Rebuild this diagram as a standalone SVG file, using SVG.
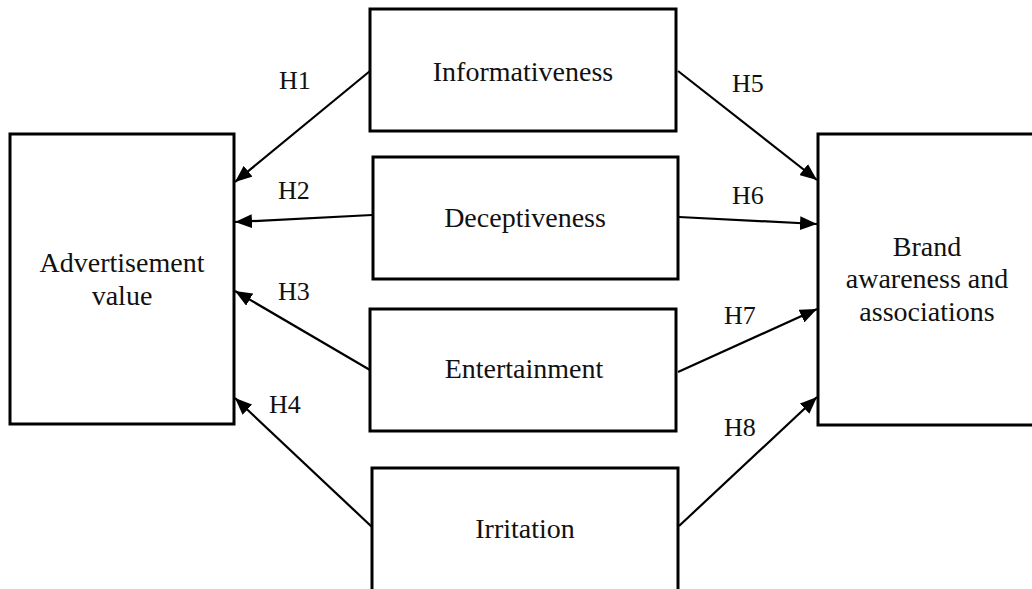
<svg xmlns="http://www.w3.org/2000/svg" width="1032" height="589" viewBox="0 0 1032 589">
<defs>
<style>
.box{fill:#fff;stroke:#000;stroke-width:3}
.t{font-family:"Liberation Serif","Times New Roman",serif;font-size:28px;fill:#111;text-anchor:middle}
.lbl{font-family:"Liberation Serif","Times New Roman",serif;font-size:26px;fill:#111;text-anchor:start}
.c{stroke:#000;stroke-width:2.2;fill:none;marker-end:url(#ah)}
</style>
<marker id="ah" markerUnits="userSpaceOnUse" markerWidth="18" markerHeight="14" refX="17" refY="7" orient="auto">
<path d="M0,0 L17,7 L0,14 z" fill="#000"/>
</marker>
</defs>
<rect width="1032" height="589" fill="#fff"/>
<g id="advertisement-value">
<rect class="box" x="10" y="134" width="224" height="290"/>
<text class="t" x="122" y="272">Advertisement</text>
<text class="t" x="122" y="305">value</text>
</g>
<g id="informativeness">
<rect class="box" x="370" y="9" width="306" height="122"/>
<text class="t" x="523" y="81">Informativeness</text>
</g>
<g id="deceptiveness">
<rect class="box" x="373" y="157" width="305" height="122"/>
<text class="t" x="525" y="227">Deceptiveness</text>
</g>
<g id="entertainment">
<rect class="box" x="370" y="309" width="306" height="122"/>
<text class="t" x="524" y="378">Entertainment</text>
</g>
<g id="irritation">
<rect class="box" x="372" y="468" width="306" height="130"/>
<text class="t" x="525" y="538">Irritation</text>
</g>
<g id="brand-awareness">
<rect class="box" x="818" y="134" width="220" height="291"/>
<text class="t" x="927" y="256">Brand</text>
<text class="t" x="927" y="288">awareness and</text>
<text class="t" x="927" y="321">associations</text>
</g>
<g id="connectors">
<line class="c" x1="370" y1="71" x2="235" y2="182"/>
<line class="c" x1="372" y1="215" x2="235" y2="222"/>
<line class="c" x1="370" y1="370" x2="235" y2="291"/>
<line class="c" x1="372" y1="527" x2="235" y2="398"/>
<line class="c" x1="678" y1="71" x2="817" y2="180"/>
<line class="c" x1="679" y1="217" x2="817" y2="224"/>
<line class="c" x1="678" y1="372" x2="817" y2="309"/>
<line class="c" x1="679" y1="526" x2="817" y2="397"/>
<text class="lbl" x="279" y="89">H1</text>
<text class="lbl" x="278" y="199">H2</text>
<text class="lbl" x="278" y="300">H3</text>
<text class="lbl" x="269" y="413">H4</text>
<text class="lbl" x="732" y="92">H5</text>
<text class="lbl" x="732" y="204">H6</text>
<text class="lbl" x="724" y="324">H7</text>
<text class="lbl" x="724" y="436">H8</text>
</g>
</svg>
